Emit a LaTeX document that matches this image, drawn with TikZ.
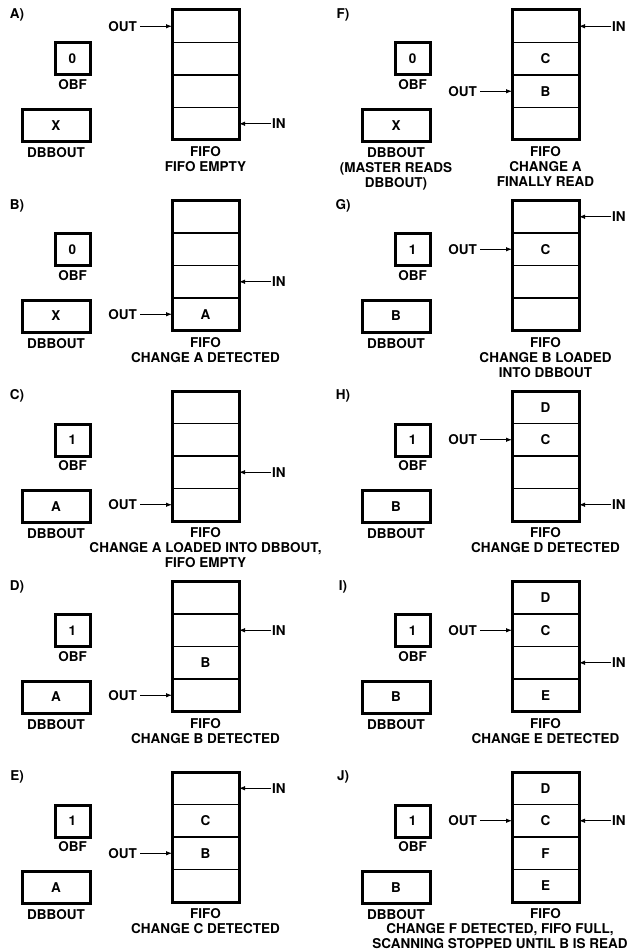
\documentclass[tikz,border=0pt]{standalone}
\usepackage{fontspec}
\setmainfont{TeX Gyre Heros}
\usetikzlibrary{arrows.meta, positioning}
\tikzset{
  >=latex,
  % testo in grassetto
  lab/.style={font=\fontsize{13.5}{15}\selectfont\bfseries, inner sep=0pt, align=center},
  % registri OBF e DBBOUT
  reg/.style={lab, draw, line width=3pt, minimum height=32},
  % celle della FIFO
  cell/.style={lab, draw, line width=1.2pt, outer sep=0pt, minimum width=67, minimum height=32.5},
  % puntatori
  ptr/.style={-{Latex[length=6,width=4.5]}, line width=0.9pt}
}

\begin{document}
\begin{tikzpicture}[x=1pt,y=-1pt]
  \useasboundingbox (0,0) rectangle (638,952);
  \foreach \p/\cl/\rw/\obf/\dbb/\ra/\rb/\rc/\rd/\orow/\irow/\cx/\captxt/\dbl in {
    A/0/0/0/X/{}/{}/{}/{}/1/4/205.5/{FIFO EMPTY}/DBBOUT,
    B/0/1/0/X/{}/{}/{}/A/4/3/205.5/{CHANGE A DETECTED}/DBBOUT,
    C/0/2/1/A/{}/{}/{}/{}/4/3/205.5/{CHANGE A LOADED INTO DBBOUT,\\FIFO EMPTY}/DBBOUT,
    D/0/3/1/A/{}/{}/B/{}/4/2/205.5/{CHANGE B DETECTED}/DBBOUT,
    E/0/4/1/A/{}/C/B/{}/3/1/205.5/{CHANGE C DETECTED}/DBBOUT,
    F/1/0/0/X/{}/C/B/{}/3/1/205.5/{CHANGE A\\FINALLY READ}/{DBBOUT\\(MASTER READS\\DBBOUT)},
    G/1/1/1/B/{}/C/{}/{}/2/1/205.5/{CHANGE B LOADED\\INTO DBBOUT}/DBBOUT,
    H/1/2/1/B/D/C/{}/{}/2/4/205.5/{CHANGE D DETECTED}/DBBOUT,
    I/1/3/1/B/D/C/{}/E/2/3/205.5/{CHANGE E DETECTED}/DBBOUT,
    J/1/4/1/B/D/C/F/E/2/2/160/{CHANGE F DETECTED, FIFO FULL,\\SCANNING STOPPED UNTIL B IS READ}/DBBOUT}
  {
    \begin{scope}[shift={(\cl*340,\rw*190.5)}]
      \node[lab] (tag\p) at ({17-14*\cl},15) {\p)};
      % OBF e DBBOUT
      \node[reg, minimum width=35] (obf\p) at (72.5,59) {\obf};
      \node[lab] (obfl\p) at (72.5,85) {OBF};
      \node[reg, minimum width=68] (dbb\p) at (56,125.5) {\dbb};
      \node[lab, anchor=north] (dbbl\p) at (56,147.5) {\dbl};
      % FIFO
      \node[cell] (c\p1) at (205.5,26.25) {\ra};
      \node[cell, below=0pt of c\p1] (c\p2) {\rb};
      \node[cell, below=0pt of c\p2] (c\p3) {\rc};
      \node[cell, below=0pt of c\p3] (c\p4) {\rd};
      \draw[line width=3pt] (c\p1.north west) rectangle (c\p4.south east);
      \node[lab] (fifo\p) at (205.5,152) {FIFO};
      \node[lab, anchor=north] (cap\p) at (\cx,161.5) {\captxt};
      % OUT e IN
      \node[lab, left=35pt of c\p\orow.west] (out\p) {OUT};
      \draw[ptr, shorten <=3pt] (out\p) -- (c\p\orow.west);
      \node[lab, right=33pt of c\p\irow.east] (in\p) {IN};
      \draw[ptr, shorten <=1pt] (in\p) -- (c\p\irow.east);
    \end{scope}
  }
\end{tikzpicture}
\end{document}
